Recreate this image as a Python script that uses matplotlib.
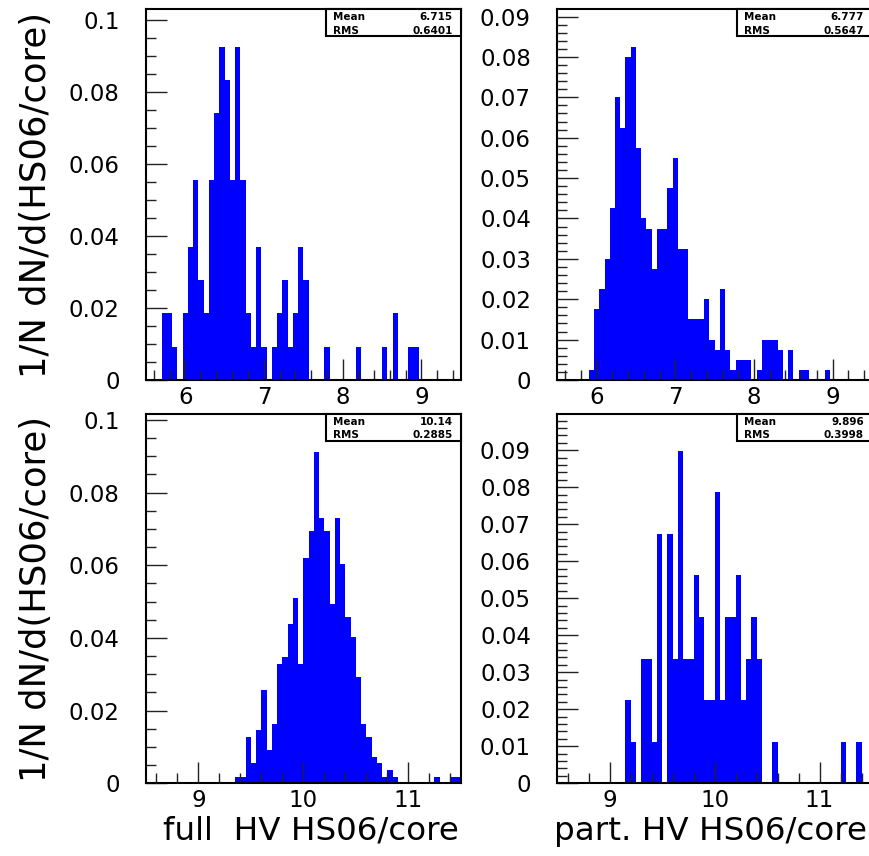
import numpy as np
import matplotlib
matplotlib.use("Agg")
import matplotlib.pyplot as plt
from matplotlib.patches import Rectangle
from matplotlib.ticker import MultipleLocator, FuncFormatter

# bin counts (60 bins each)
counts_full_top = [0, 0, 0, 2, 2, 1, 0, 2, 4, 6,
                   3, 2, 6, 8, 10, 9, 6, 10, 6, 2,
                   1, 4, 1, 0, 1, 2, 3, 1, 2, 4,
                   3, 0, 0, 0, 1, 0, 0, 0, 0, 0,
                   1, 0, 0, 0, 0, 1, 0, 2, 0, 0,
                   1, 1, 0, 0, 0, 0, 0, 0, 0, 0]
counts_part_top = [0, 0, 0, 0, 0, 0, 1, 7, 9, 12,
                   17, 28, 25, 32, 33, 23, 16, 15, 11, 15,
                   15, 19, 22, 13, 13, 6, 6, 6, 8, 4,
                   3, 9, 3, 1, 2, 2, 2, 0, 1, 4,
                   4, 4, 3, 0, 3, 0, 1, 1, 0, 0,
                   0, 1, 0, 0, 0, 0, 0, 0, 0, 0]
counts_full_bot = [0, 0, 0, 0, 0, 0, 0, 0, 0, 0,
                   0, 0, 0, 0, 0, 0, 0, 1, 1, 7,
                   3, 8, 14, 5, 9, 18, 19, 24, 28, 18,
                   34, 38, 50, 40, 38, 27, 40, 33, 25, 22,
                   16, 9, 7, 4, 3, 1, 2, 1, 0, 0,
                   0, 0, 0, 0, 0, 1, 0, 0, 1, 1]
counts_part_bot = [0, 0, 0, 0, 0, 0, 0, 0, 0, 0,
                   0, 0, 0, 2, 1, 0, 3, 3, 1, 6,
                   0, 6, 3, 8, 3, 3, 5, 4, 2, 2,
                   7, 2, 4, 4, 5, 2, 3, 4, 3, 0,
                   0, 1, 0, 0, 0, 0, 0, 0, 0, 0,
                   0, 0, 0, 0, 1, 0, 0, 1, 0, 0]

x_ranges = [(5.5, 9.5), (5.5, 9.5), (8.5, 11.5), (8.5, 11.5)]
y_max = [0.103, 0.0918, 0.1016, 0.0998]
y_major = [0.02, 0.01, 0.02, 0.01]
y_minor = [0.005, 0.002, 0.005, 0.002]
means = ["6.715", "6.777", "10.14", "9.896"]
rms = ["0.6401", "0.5647", "0.2885", "0.3998"]
x_titles = [None, None, "full  HV HS06/core", "part. HV HS06/core"]
y_title = "1/N dN/d(HS06/core)"

all_counts = [counts_full_top, counts_part_top, counts_full_bot, counts_part_bot]

W, H = 870, 856
fig = plt.figure(figsize=(W / 100, H / 100), dpi=100)

# axes boxes in pixels: left, top, right, bottom
boxes = [(146, 9.3, 460.7, 380), (557.3, 9.3, 872, 380),
         (146, 414, 460.7, 783.3), (557.3, 414, 872, 783.3)]
# right end of the x titles, pixels
title_right = [459, 459, 459, 867]

fmt = FuncFormatter(lambda v, p: f"{v:g}")

for i, (l, t, r, b) in enumerate(boxes):
    ax = fig.add_axes([l / W, 1 - b / H, (r - l) / W, (b - t) / H])
    c = np.array(all_counts[i], dtype=float)
    lo, hi = x_ranges[i]
    edges = np.linspace(lo, hi, len(c) + 1)
    ax.stairs(c / c.sum(), edges, fill=True, color="#0000ff", linewidth=0)

    ax.set_xlim(lo, hi)
    ax.set_ylim(0, y_max[i])
    ax.xaxis.set_major_locator(MultipleLocator(1))
    ax.xaxis.set_minor_locator(MultipleLocator(0.2))
    ax.yaxis.set_major_locator(MultipleLocator(y_major[i]))
    ax.yaxis.set_minor_locator(MultipleLocator(y_minor[i]))
    ax.yaxis.set_major_formatter(fmt)
    ax.xaxis.set_major_formatter(fmt)
    ax.tick_params(which="both", direction="in", top=False, right=False,
                   colors="#222222", labelcolor="black", width=1)
    ax.tick_params(which="major", length=15, labelsize=16.5)
    ax.tick_params(which="minor", length=7)
    ax.tick_params(axis="y", which="major", pad=19)
    ax.tick_params(axis="x", which="major", pad=4)
    for s in ax.spines.values():
        s.set_linewidth(1.5)
        s.set_color("black")
        s.set_zorder(5)

    if i % 2 == 0:
        ax.set_ylabel(y_title, fontsize=25.5)
        ax.yaxis.set_label_coords(-0.295, 0.5)
    if x_titles[i]:
        ax.set_xlabel(x_titles[i], fontsize=23.4, loc="right")
        ax.xaxis.set_label_coords((title_right[i] - l) / (r - l), -0.088)

    # stats box in the top right corner
    bw = 135 / (r - l)
    bh = 27 / (b - t)
    ax.add_patch(Rectangle((1 - bw, 1 - bh), bw, bh, transform=ax.transAxes,
                           facecolor="white", edgecolor="black", linewidth=1.5,
                           zorder=6, clip_on=False))
    px = 1 / (r - l)
    py = 1 / (b - t)
    for row, (name, val) in enumerate([("Mean", means[i]), ("RMS", rms[i])]):
        yy = 1 - (7.7 + 13.5 * row) * py
        ax.text(1 - bw + 7 * px, yy, name, transform=ax.transAxes, fontsize=7.5,
                fontweight="bold", ha="left", va="center", zorder=7)
        ax.text(1 - 8 * px, yy, val, transform=ax.transAxes, fontsize=7.5,
                fontweight="bold", ha="right", va="center", zorder=7)

fig.savefig("out.png", dpi=100)
